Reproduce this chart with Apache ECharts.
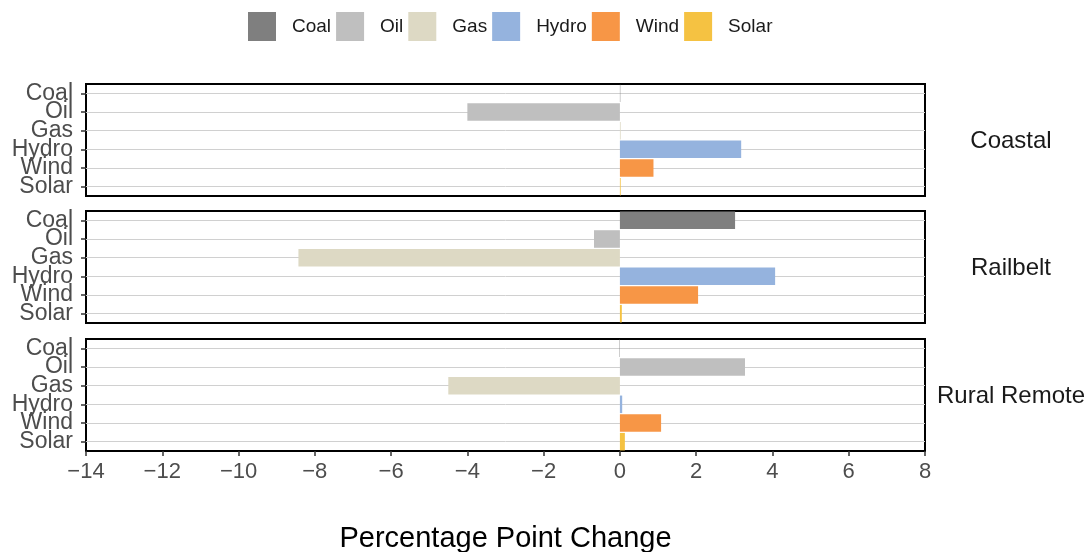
<!DOCTYPE html>
<html>
<head>
<meta charset="utf-8">
<script src="https://cdn.jsdelivr.net/npm/echarts@6/dist/echarts.min.js"></script>
<style>
    html, body { margin: 0; padding: 0; background: #fff; }
    #chart { width: 1091px; height: 552px; }
</style>
</head>
<body>
<div id="chart"></div>
<script>
// categories (top to bottom) and facets
const sources = ['Coal', 'Oil', 'Gas', 'Hydro', 'Wind', 'Solar'];
const regions = ['Coastal', 'Railbelt', 'Rural Remote'];
const xTicks = [-14, -12, -10, -8, -6, -4, -2, 0, 2, 4, 6, 8];

// percentage point change per source, one array per region
const coastal = [0.01, -4.0, 0.02, 3.18, 0.88, 0.02];
const railbelt = [3.02, -0.68, -8.43, 4.07, 2.05, 0.05];
const ruralRemote = [-0.01, 3.28, -4.5, 0.06, 1.08, 0.13];

const colors = ['#7f7f7f', '#bfbfbf', '#ddd9c4', '#95b3de', '#f79646', '#f5c242'];

const Graph = function () {
    let myChart = echarts.init(document.getElementById('chart'));
    const font = 'Liberation Sans, Arial, sans-serif';
    const panelTop = [84, 211, 339];
    const panelData = [coastal, railbelt, ruralRemote];

    const grids = panelTop.map(t => ({
        left: 86, width: 839, top: t, height: 112,
        outerBoundsMode: 'none', containLabel: false,
        show: true, borderColor: '#000', borderWidth: 2, backgroundColor: '#fff'
    }));

    const xAxes = panelTop.map((t, i) => ({
        type: 'value', gridIndex: i, min: xTicks[0], max: xTicks[xTicks.length - 1], interval: 2,
        splitLine: {show: false},
        axisLine: {show: false, onZero: false},
        axisTick: {show: i === 2, length: 5, lineStyle: {color: '#333', width: 1.5}},
        axisLabel: {
            show: i === 2, fontSize: 22, color: '#4d4d4d', fontFamily: font, margin: 10,
            formatter: v => v < 0 ? '\u2212' + (-v) : String(v)
        },
        name: i === 2 ? 'Percentage Point Change' : '',
        nameLocation: 'middle', nameGap: 73,
        nameTextStyle: {fontSize: 29, color: '#000', fontFamily: font}
    }));

    const yAxes = panelTop.map((t, i) => ({
        type: 'category', gridIndex: i, data: sources, inverse: true,
        axisLine: {show: false, onZero: false},
        axisTick: {show: true, length: 5, alignWithLabel: true, lineStyle: {color: '#333', width: 1.5}},
        splitLine: {show: true, alignWithLabel: true, lineStyle: {color: '#d0d0d0', width: 1}},
        axisLabel: {interval: 0, fontSize: 23, color: '#4d4d4d', fontFamily: font, margin: 13, lineHeight: 18}
    }));

    const series = [];
    panelData.forEach((vals, p) => {
        sources.forEach((s, k) => {
            series.push({
                name: s, type: 'bar', xAxisIndex: p, yAxisIndex: p, stack: 'p' + p,
                barCategoryGap: '6%',
                itemStyle: {color: colors[k]},
                data: sources.map((c, j) => j === k ? vals[k] : null)
            });
        });
    });

    const strips = regions.map((r, i) => ({
        type: 'text', x: 1011, y: panelTop[i] + 57,
        style: {text: r, align: 'center', verticalAlign: 'middle', fontSize: 24, fontFamily: font, fill: '#1a1a1a'}
    }));

    return {
        render: function () {
            const option = {
                animation: false,
                color: colors,
                legend: {
                    data: sources, left: 243, top: 7, icon: 'rect',
                    itemWidth: 28, itemHeight: 29, itemGap: 5,
                    textStyle: {fontSize: 19, color: '#1a1a1a', fontFamily: font, padding: [0, 0, 0, 11]}
                },
                grid: grids,
                xAxis: xAxes,
                yAxis: yAxes,
                series: series,
                graphic: strips
            };
            myChart.setOption(option);
        }
    };
}();
Graph.render();
</script>
</body>
</html>
